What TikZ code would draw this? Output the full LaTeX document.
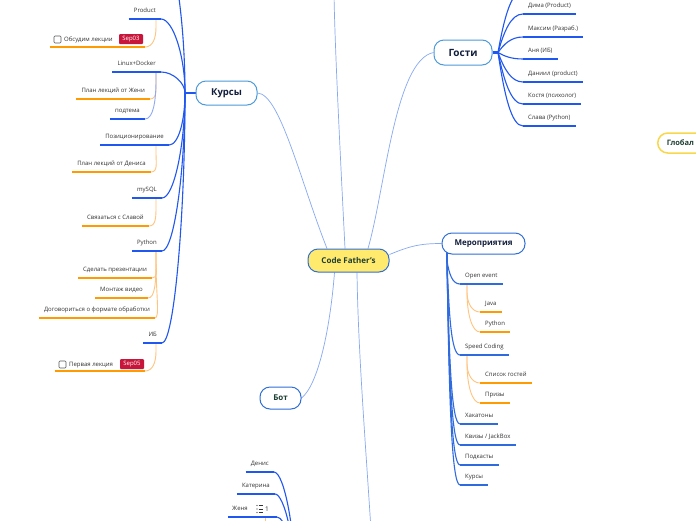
\documentclass[tikz,border=0pt]{standalone}
\usepackage{fontspec}
\setmainfont{Open Sans}
\usetikzlibrary{backgrounds}
\definecolor{cfyellow}{HTML}{FFEA6E}
\definecolor{tblue}{HTML}{2F6FD6}
\definecolor{tlblue}{HTML}{4B9BDB}
\definecolor{navy}{HTML}{111D3C}
\definecolor{dgreen}{HTML}{1E3F33}
\definecolor{cline}{HTML}{86A9F2}
\definecolor{bline}{HTML}{1F57F0}
\definecolor{mline}{HTML}{2F6BDF}
\definecolor{sline}{HTML}{8FAAF5}
\definecolor{oline}{HTML}{FFC47E}
\definecolor{oulc}{HTML}{FF9A00}
\definecolor{tagred}{HTML}{C8163A}
\definecolor{gold}{HTML}{F8D84A}
\definecolor{lbltext}{HTML}{333333}
\tikzset{
 topic/.style={draw, line width=1pt, rounded corners=10pt, fill=white, font=\bfseries\fontsize{8}{10}\selectfont, text=navy, inner sep=0pt},
 lbl/.style={font=\fontsize{6}{7}\selectfont, text=lbltext, text height=4.5pt, text depth=1.5pt, inner xsep=5pt, inner ysep=4.5pt},
 cl/.style={draw=cline, line width=0.7pt},
 bl/.style={draw=bline, line width=1.1pt},
 ml/.style={draw=mline, line width=1.1pt},
 sl/.style={draw=sline, line width=0.9pt},
 ol/.style={draw=oline, line width=0.9pt},
 oul/.style={draw=oulc, line width=1.2pt},
 bul/.style={draw=bline, line width=1.3pt},
 mul/.style={draw=mline, line width=1.3pt},
 chk/.style={draw=black!65, line width=0.6pt, rounded corners=1pt, minimum size=7pt, inner sep=0pt, fill=white},
 tagbox/.style={fill=tagred, text=white, font=\fontsize{6}{7}\selectfont, rounded corners=1pt, minimum width=24pt, minimum height=10pt, inner sep=0pt},
 grp/.style={minimum height=14pt, inner sep=0pt},
}
\newcommand\myul[2]{\draw[#1] (#2.south west) -- (#2.south east);}
\begin{document}
\begin{tikzpicture}[x=1pt,y=-1pt]
\useasboundingbox (0,0) rectangle (696,520);
% ---------- main topics
\node[topic, fill=cfyellow, draw=tblue, text=dgreen, minimum width=81pt, minimum height=23pt] (cf) at (348.5,260.5) {Code Father's};
\node[topic, draw=tlblue, minimum width=61pt, minimum height=24pt, font=\bfseries\fontsize{9.5}{11}\selectfont] (kursy) at (226.5,93) {Курсы};
\node[topic, draw=tlblue, minimum width=58pt, minimum height=25pt, font=\bfseries\fontsize{10}{12}\selectfont] (gosti) at (463,52.5) {Гости};
\node[topic, draw=tblue, minimum width=83pt, minimum height=21pt] (mer) at (483.5,243.5) {Мероприятия};
\node[topic, draw=tblue, text=dgreen, minimum width=41pt, minimum height=22pt] (bot) at (280.5,398) {Бот};
\node[topic, draw=gold, line width=1.5pt, text=dgreen, anchor=west, minimum height=20pt, text width=64pt, align=left, inner xsep=9pt, font=\bfseries\fontsize{7.5}{9}\selectfont] (glob) at (657,143) {Глобал};
% ---------- hubs
\coordinate (kh) at (185,93);
\coordinate (gh) at (498,52.5);
\coordinate (mh) at (447,261);
\coordinate (kt) at (161,-60);
\coordinate (gt) at (523,-9);
\coordinate (ctop) at (334,-5);
\coordinate (cbot) at (371,530);
\coordinate (hubB) at (296,600);
% ---------- Kursy children
\node[lbl, anchor=south east] (product) at (161,19) {Product};
\node[lbl, anchor=south east] (linux) at (161,72) {Linux+Docker};
\node[lbl, anchor=south east] (poz) at (169,145) {Позиционирование};
\node[lbl, anchor=south east] (mysql) at (162,198) {mySQL};
\node[lbl, anchor=south east] (python) at (162,251) {Python};
\node[lbl, anchor=south east] (ib) at (162,343) {ИБ};
\foreach \n in {product,linux,poz,mysql,python,ib} {\myul{bul}{\n}}
% grandchildren
\node[grp, anchor=south east, minimum width=95pt] (g1) at (145,47) {};
\node[chk] (cb1) at (57.5,39.5) {};
\node[lbl, anchor=base west, inner sep=0pt] (t1) at (64,41.5) {Обсудим лекции};
\node[tagbox] (tag1) at (131,39) {Sep03};
\myul{oul}{g1}
\node[lbl, anchor=south east] (plzh) at (150,99) {План лекций от Жени};
\node[lbl, anchor=south east] (podt) at (145,119) {подтема};
\node[lbl, anchor=south east] (plden) at (151,172) {План лекций от Дениса};
\node[lbl, anchor=south east] (svz) at (149,226) {Связаться с Славой};
\node[lbl, anchor=south east] (sdel) at (152,278) {Сделать презентации};
\node[lbl, anchor=south east] (mont) at (148,298) {Монтаж видео};
\node[lbl, anchor=south east] (dog) at (155,318) {Договориться о формате обработки};
\foreach \n in {plzh,plden,svz,sdel,mont,dog} {\myul{oul}{\n}}
\myul{bul}{podt}
\node[grp, anchor=south east, minimum width=90pt] (g2) at (145,371) {};
\node[chk] (cb2) at (62.5,364.5) {};
\node[lbl, anchor=base west, inner sep=0pt] (t2) at (69,366.5) {Первая лекция};
\node[tagbox] (tag2) at (132,364) {Sep05};
\myul{oul}{g2}
% ---------- Gosti children
\node[lbl, anchor=south west] (dima) at (523,14) {Дима (Product)};
\node[lbl, anchor=south west] (maks) at (523,37) {Максим (Разраб.)};
\node[lbl, anchor=south west] (anya) at (523,59) {Аня (ИБ)};
\node[lbl, anchor=south west] (dan) at (523,82) {Даниил (product)};
\node[lbl, anchor=south west] (kost) at (523,104) {Костя (психолог)};
\node[lbl, anchor=south west] (slava) at (523,126) {Слава (Python)};
\foreach \n in {dima,maks,anya,dan,kost,slava} {\myul{bul}{\n}}
% ---------- Meropriyatiya children
\node[lbl, anchor=south west] (openev) at (460,284) {Open event};
\node[lbl, anchor=south west] (speed) at (460,355) {Speed Coding};
\node[lbl, anchor=south west] (hak) at (460,424) {Хакатоны};
\node[lbl, anchor=south west] (kviz) at (460,445) {Квизы / JackBox};
\node[lbl, anchor=south west] (podk) at (460,465) {Подкасты};
\node[lbl, anchor=south west] (kur2) at (460,485) {Курсы};
\foreach \n in {openev,speed,hak,kviz,podk,kur2} {\myul{mul}{\n}}
\node[lbl, anchor=south west] (java) at (480,312) {Java};
\node[lbl, anchor=south west] (py2) at (480,332) {Python};
\node[lbl, anchor=south west] (spis) at (480,383) {Список гостей};
\node[lbl, anchor=south west] (priz) at (480,403) {Призы};
\foreach \n in {java,py2,spis,priz} {\myul{oul}{\n}}
% ---------- bottom-left
\node[lbl, anchor=south east] (den) at (274,472) {Денис};
\node[lbl, anchor=south east] (kat) at (275,494) {Катерина};
\node[lbl, anchor=south west, inner xsep=4pt] (zh) at (228,517) {Женя};
\coordinate (zhR) at (277,517);
\foreach \yy in {505.5,509,512.5} {\fill[black!80] (257,\yy) circle (0.6); \draw[black!80, line width=0.6pt] (258.5,\yy) -- (263,\yy);}
\node[font=\fontsize{6.5}{7}\selectfont, text=black!85, inner sep=0pt] (zhn) at (267,509) {1};
\myul{bul}{den}
\myul{bul}{kat}
\draw[bul] (zh.south west) -- (zhR);
% ---------- connectors
\begin{scope}[on background layer]
\fill[white] (0,0) rectangle (696,520);
\clip (0,0) rectangle (696,520);
% central
\draw[cl] (kursy.east) .. controls (280,94) and (300,180) .. ([xshift=-21.5pt]cf.north);
\draw[cl] ([xshift=-3.5pt]cf.north) .. controls (340,150) and (335,50) .. (ctop);
\draw[cl] ([xshift=19.5pt]cf.north) .. controls (385,190) and (395,60) .. (gosti.west);
\draw[cl] ([yshift=6pt]cf.east) .. controls (410,246) and (420,243.5) .. (mer.west);
\draw[cl] ([xshift=-14pt]cf.south) .. controls (330,330) and (318,385) .. (bot.east);
\draw[cl] ([xshift=8.5pt]cf.south) .. controls (358,350) and (366,450) .. (cbot);
% hub stubs
\draw[bline, line width=2.2pt] (kursy.west) -- (kh);
\draw[bline, line width=2.2pt] (gosti.east) -- (gh);
\draw[mline, line width=2.2pt] (447,250) -- (mh);
% Kursy hub
\draw[bl] (kh) .. controls +(0,-76) and +(12,0) .. (kt);
\draw[bl] (kh) .. controls +(0,-37) and +(12,0) .. (product.south east);
\draw[bl] (kh) .. controls +(0,-10) and +(12,0) .. (linux.south east);
\draw[bl] (kh) .. controls +(0,26) and +(10,0) .. (poz.south east);
\draw[bl] (kh) .. controls +(0,52) and +(12,0) .. (mysql.south east);
\draw[bl] (kh) .. controls +(0,79) and +(12,0) .. (python.south east);
\draw[bl] (kh) .. controls +(0,125) and +(12,0) .. (ib.south east);
% orange left
\draw[ol] (156,19) -- (156,27) .. controls +(0,11) and +(8,0) .. (g1.south east);
\draw[ol] (156,72) -- (156,80) .. controls +(0,10) and +(7,0) .. (plzh.south east);
\draw[sl] (156,72) -- (156,80) .. controls +(0,22) and +(8,0) .. (podt.south east);
\draw[ol] (156,145) -- (156,153) .. controls +(0,10) and +(7,0) .. (plden.south east);
\draw[ol] (156,198) -- (156,206) .. controls +(0,11) and +(7,0) .. (svz.south east);
\draw[ol] (156,251) -- (156,262) .. controls +(0,9) and +(6,0) .. (sdel.south east);
\draw[ol] (156,251) -- (156,262) .. controls +(0,20) and +(7,0) .. (mont.south east);
\draw[ol] (156,251) -- (156,262) .. controls +(0,32) and +(5,0) .. (dog.south east);
\draw[ol] (156,343) -- (156,351) .. controls +(0,11) and +(8,0) .. (g2.south east);
% Gosti hub
\draw[bl] (gh) .. controls +(6,-34) and +(-12,0) .. (gt);
\draw[bl] (gh) .. controls +(6,-21) and +(-12,0) .. (dima.south west);
\draw[bl] (gh) .. controls +(6,-8.5) and +(-12,0) .. (maks.south west);
\draw[bl] (gh) .. controls +(6,3.5) and +(-12,0) .. (anya.south west);
\draw[bl] (gh) .. controls +(6,16) and +(-12,0) .. (dan.south west);
\draw[bl] (gh) .. controls +(6,28) and +(-12,0) .. (kost.south west);
\draw[bl] (gh) .. controls +(6,40) and +(-12,0) .. (slava.south west);
% Meropriyatiya hub
\draw[ml] (mh) .. controls +(2,12) and +(-8,0) .. (openev.south west);
\draw[ml] (mh) .. controls +(2,52) and +(-9,0) .. (speed.south west);
\draw[ml] (mh) .. controls +(2,90) and +(-9,0) .. (hak.south west);
\draw[ml] (mh) .. controls +(2,101) and +(-9,0) .. (kviz.south west);
\draw[ml] (mh) .. controls +(2,112) and +(-9,0) .. (podk.south west);
\draw[ml] (mh) .. controls +(2,123) and +(-9,0) .. (kur2.south west);
% orange right
\draw[ol] (467,284) -- (467,292) .. controls +(0,11) and +(-8,0) .. (java.south west);
\draw[ol] (467,284) -- (467,292) .. controls +(0,22) and +(-8,0) .. (py2.south west);
\draw[ol] (467,355) -- (467,363) .. controls +(0,11) and +(-8,0) .. (spis.south west);
\draw[ol] (467,355) -- (467,363) .. controls +(0,22) and +(-8,0) .. (priz.south west);
% bottom-left
\draw[bl] (den.south east) .. controls +(10,0) and +(0,-70) .. (hubB);
\draw[bl] (kat.south east) .. controls +(9,0) and +(0,-60) .. (hubB);
\draw[bl] (zhR) .. controls +(8,0) and +(0,-50) .. (hubB);
\draw[ol] (265,517) -- (265,530);
\end{scope}
\end{tikzpicture}
\end{document}
